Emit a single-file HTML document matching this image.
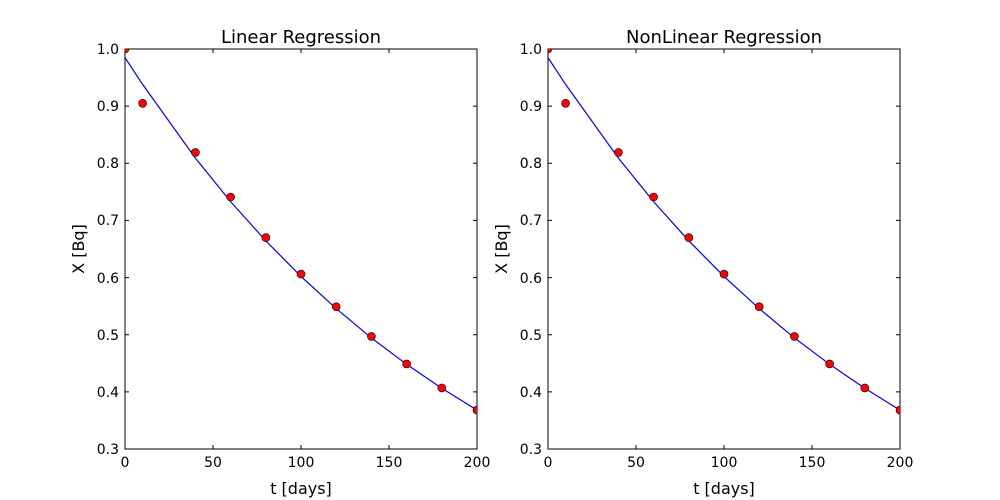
<!DOCTYPE html>
<html><head><meta charset="utf-8"><style>body{margin:0;background:#fff}svg{display:block}text{font-family:"DejaVu Sans","Liberation Sans",sans-serif;fill:#000}</style></head>
<body>
<svg width="1000" height="500" viewBox="0 0 1000 500" xmlns="http://www.w3.org/2000/svg">
<defs>
<clipPath id="cp"><rect x="125" y="49" width="352" height="400"/></clipPath>
<g id="ax">
  <rect x="125" y="49" width="352" height="400" fill="#fff" stroke="#000" stroke-width="1"/>
  <g stroke="#000" stroke-width="1">
    <path d="M125 449v-4M213 449v-4M301 449v-4M389 449v-4M477 449v-4M125 49v4M213 49v4M301 49v4M389 49v4M477 49v4"/>
    <path d="M125 449h4M125 391.9h4M125 334.7h4M125 277.6h4M125 220.4h4M125 163.3h4M125 106.1h4M125 49h4M477 449h-4M477 391.9h-4M477 334.7h-4M477 277.6h-4M477 220.4h-4M477 163.3h-4M477 106.1h-4M477 49h-4"/>
  </g>
  <g font-size="14" text-anchor="middle">
    <text x="125" y="467">0</text><text x="213" y="467">50</text><text x="301" y="467">100</text><text x="389" y="467">150</text><text x="477" y="467">200</text>
  </g>
  <g font-size="14" text-anchor="end">
    <text x="119" y="454">0.3</text><text x="119" y="397">0.4</text><text x="119" y="340">0.5</text><text x="119" y="283">0.6</text><text x="119" y="225">0.7</text><text x="119" y="168">0.8</text><text x="119" y="111">0.9</text><text x="119" y="54">1.0</text>
  </g>
  <text x="301" y="494" font-size="16" text-anchor="middle">t [days]</text>
  <text transform="translate(84 249) rotate(-90)" font-size="16" text-anchor="middle">X [Bq]</text>
  <g clip-path="url(#cp)">
  <polyline fill="none" stroke="#0000ff" stroke-width="1.2" points="125,57.6 142.6,84.4 195.4,158.1 230.6,201.6 265.8,240.8 301,276.4 336.2,308.6 371.4,337.9 406.6,364.3 441.8,388.3 477,410.1"/>
  <g fill="#ff0000" stroke="#000" stroke-width="0.6">
    <circle cx="125" cy="49" r="4"/><circle cx="142.6" cy="103.3" r="4"/><circle cx="195.4" cy="152.4" r="4"/><circle cx="230.6" cy="197" r="4"/><circle cx="265.8" cy="237.6" r="4"/><circle cx="301" cy="274.1" r="4"/><circle cx="336.2" cy="306.7" r="4"/><circle cx="371.4" cy="336.4" r="4"/><circle cx="406.6" cy="363.9" r="4"/><circle cx="441.8" cy="387.9" r="4"/><circle cx="477" cy="410.1" r="4"/>
  </g>
  </g>
</g>
</defs>
<use href="#ax"/>
<use href="#ax" x="423"/>
<text x="301" y="43" font-size="18" text-anchor="middle">Linear Regression</text>
<text x="724" y="43" font-size="18" text-anchor="middle">NonLinear Regression</text>
</svg>
</body></html>
